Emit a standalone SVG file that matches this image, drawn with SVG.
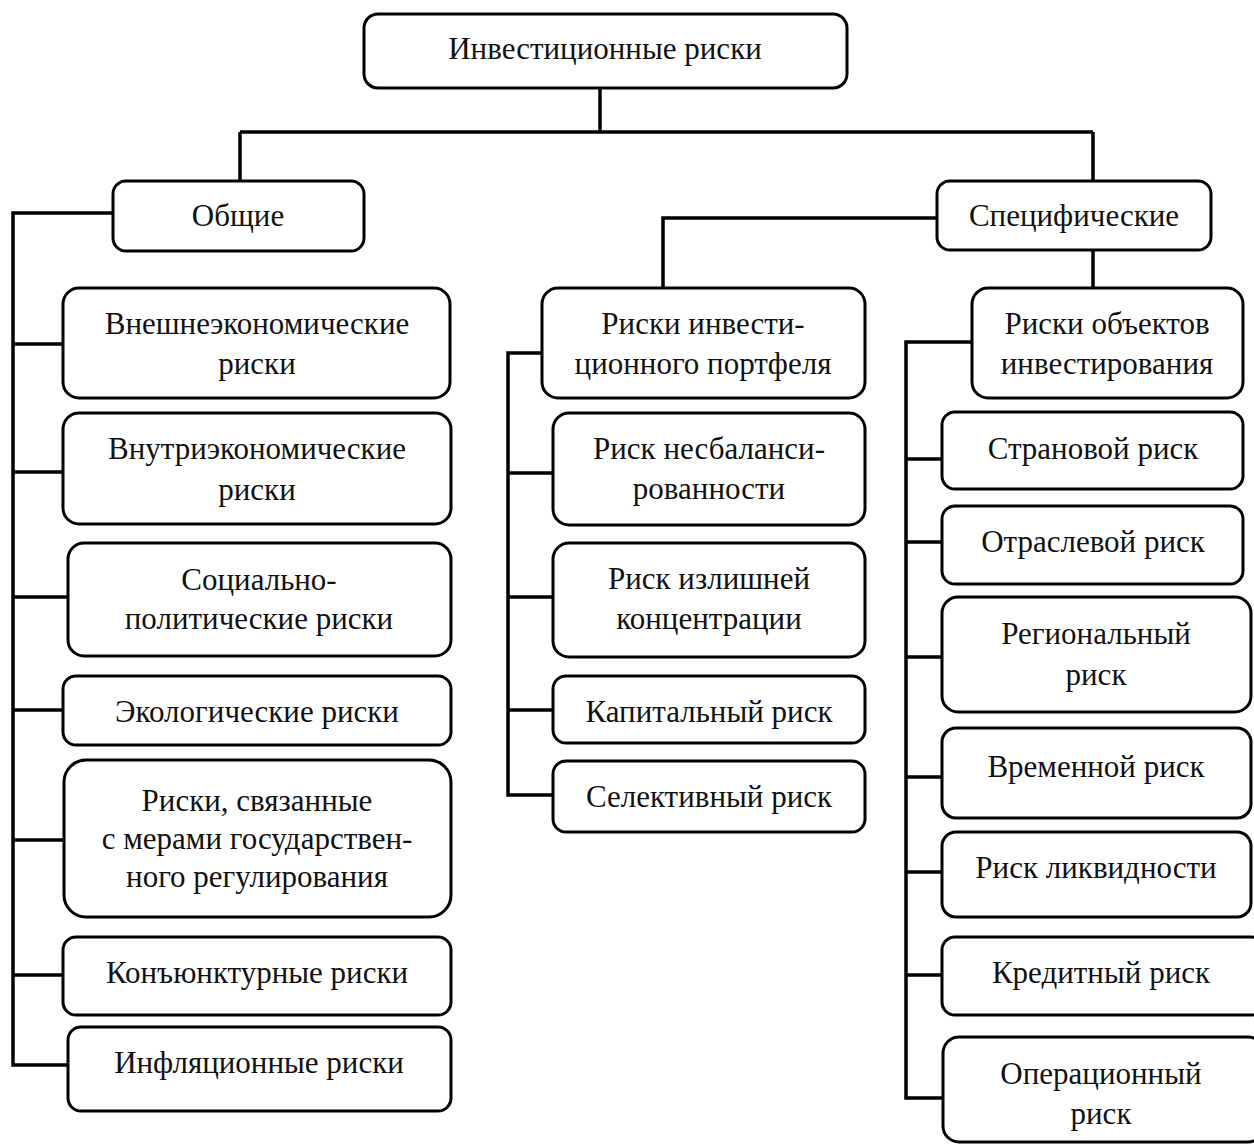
<svg xmlns="http://www.w3.org/2000/svg" width="1254" height="1144" viewBox="0 0 1254 1144">
<style>
.box{fill:#fff;stroke:#000;stroke-width:3}
.t{font-family:"Liberation Serif","Times New Roman",serif;font-size:31px;fill:#111;text-anchor:middle}
.c{fill:none;stroke:#000;stroke-width:3.5}
</style>
<rect width="1254" height="1144" fill="#fff"/>
<g id="connectors">
<path class="c" d="M600,88 V132 M240,132 H1093 M240,132 V180 M1093,132 V180"/>
<path class="c" d="M113,213 H13 V1065 H68 M13,344 H63 M13,472 H63 M13,597 H68 M13,710 H63 M13,840 H63 M13,975 H63"/>
<path class="c" d="M937,218 H663 V288"/>
<path class="c" d="M542,353 H508 V795 H553 M508,473 H553 M508,597 H553 M508,710 H553"/>
<path class="c" d="M1093,250 V288"/>
<path class="c" d="M972,342 H906 V1098 H943 M906,459 H942 M906,542 H942 M906,657 H942 M906,777 H942 M906,872 H942 M906,975 H942"/>
</g>
<g id="root"><rect class="box" x="364" y="14" width="483" height="74" rx="14"/><text class="t" x="605" y="59">Инвестиционные риски</text></g>
<g id="general"><rect class="box" x="113" y="181" width="251" height="70" rx="13"/><text class="t" x="238" y="226">Общие</text></g>
<g id="specific"><rect class="box" x="937" y="181" width="274" height="69" rx="13"/><text class="t" x="1074" y="226">Специфические</text></g>

<g id="g1"><rect class="box" x="63" y="288" width="387" height="110" rx="16"/><text class="t" x="257" y="334">Внешнеэкономические</text><text class="t" x="257" y="374">риски</text></g>
<g id="g2"><rect class="box" x="63" y="413" width="388" height="111" rx="16"/><text class="t" x="257" y="459">Внутриэкономические</text><text class="t" x="257" y="500">риски</text></g>
<g id="g3"><rect class="box" x="68" y="543" width="383" height="113" rx="16"/><text class="t" x="259" y="590">Социально-</text><text class="t" x="259" y="629">политические риски</text></g>
<g id="g4"><rect class="box" x="63" y="676" width="388" height="69" rx="13"/><text class="t" x="257" y="722">Экологические риски</text></g>
<g id="g5"><rect class="box" x="64" y="760" width="387" height="157" rx="22"/><text class="t" x="257" y="811">Риски, связанные</text><text class="t" x="257" y="849">с мерами государствен-</text><text class="t" x="257" y="887">ного регулирования</text></g>
<g id="g6"><rect class="box" x="63" y="937" width="388" height="78" rx="13"/><text class="t" x="257" y="983">Конъюнктурные риски</text></g>
<g id="g7"><rect class="box" x="68" y="1027" width="383" height="84" rx="13"/><text class="t" x="259" y="1073">Инфляционные риски</text></g>

<g id="m0"><rect class="box" x="542" y="288" width="323" height="110" rx="16"/><text class="t" x="703" y="334">Риски инвести-</text><text class="t" x="703" y="374">ционного портфеля</text></g>
<g id="m1"><rect class="box" x="553" y="413" width="312" height="112" rx="16"/><text class="t" x="709" y="459">Риск несбаланси-</text><text class="t" x="709" y="499">рованности</text></g>
<g id="m2"><rect class="box" x="553" y="543" width="312" height="114" rx="16"/><text class="t" x="709" y="589">Риск излишней</text><text class="t" x="709" y="629">концентрации</text></g>
<g id="m3"><rect class="box" x="553" y="676" width="312" height="67" rx="13"/><text class="t" x="709" y="722">Капитальный риск</text></g>
<g id="m4"><rect class="box" x="553" y="761" width="312" height="71" rx="13"/><text class="t" x="709" y="807">Селективный риск</text></g>

<g id="r0"><rect class="box" x="972" y="288" width="271" height="110" rx="16"/><text class="t" x="1107" y="334">Риски объектов</text><text class="t" x="1107" y="374">инвестирования</text></g>
<g id="r1"><rect class="box" x="942" y="412" width="301" height="77" rx="13"/><text class="t" x="1093" y="459">Страновой риск</text></g>
<g id="r2"><rect class="box" x="942" y="506" width="301" height="78" rx="13"/><text class="t" x="1093" y="552">Отраслевой риск</text></g>
<g id="r3"><rect class="box" x="942" y="597" width="309" height="115" rx="16"/><text class="t" x="1096" y="644">Региональный</text><text class="t" x="1096" y="685">риск</text></g>
<g id="r4"><rect class="box" x="942" y="728" width="309" height="90" rx="14"/><text class="t" x="1096" y="777">Временной риск</text></g>
<g id="r5"><rect class="box" x="942" y="832" width="309" height="85" rx="14"/><text class="t" x="1096" y="878">Риск ликвидности</text></g>
<g id="r6"><rect class="box" x="942" y="937" width="322" height="78" rx="13"/><text class="t" x="1101" y="983">Кредитный риск</text></g>
<g id="r7"><rect class="box" x="943" y="1037" width="321" height="105" rx="16"/><text class="t" x="1101" y="1084">Операционный</text><text class="t" x="1101" y="1124">риск</text></g>
</svg>
